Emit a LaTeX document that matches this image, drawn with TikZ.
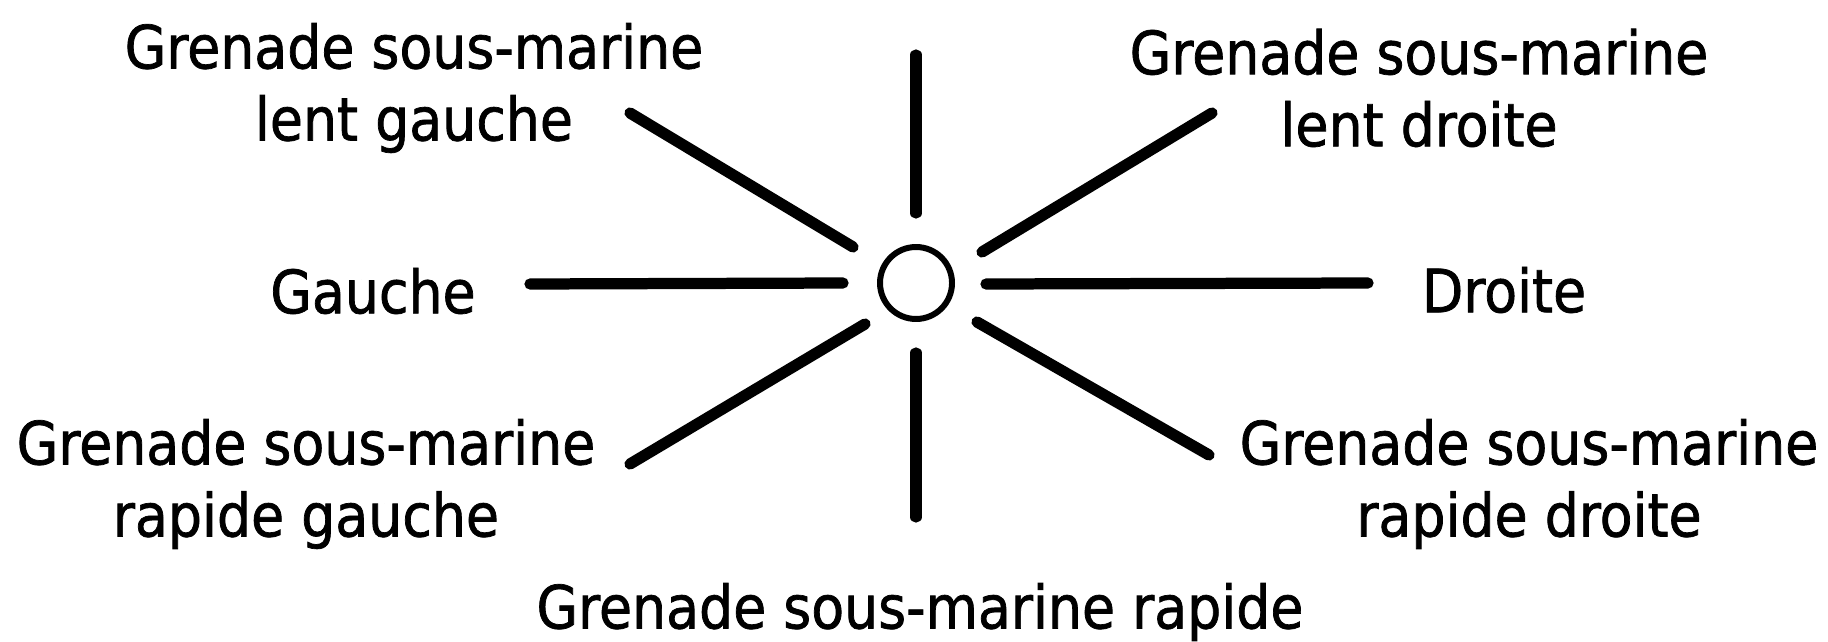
\documentclass[tikz,border=0pt]{standalone}
\usepackage{fontspec}
\setmainfont{DejaVu Sans Condensed}[FakeBold=1.2]
\usetikzlibrary{positioning}

\begin{document}
\begin{tikzpicture}[lbl/.style={align=center, inner sep=0pt, font=\fontsize{17}{20.5}\selectfont},
    ray/.style={line width=3.2pt, line cap=round}]
	\useasboundingbox (0,0) rectangle (18.28,-6.41);

	% centre
	\node[draw, circle, line width=1.7pt, minimum size=0.72cm, inner sep=0pt] (ctr) at (9.16,-2.83) {};

	% labels
	\node[lbl] (lg) at (4.14,-0.88) {Grenade sous-marine\\lent gauche};
	\node[lbl] (ld) at (14.19,-0.88) {Grenade sous-marine\\lent droite};
	\node[lbl] (ga) at (3.73,-2.91) {Gauche};
	\node[lbl] (dr) at (15.04,-2.90) {Droite};
	\node[lbl] (rg) at (3.06,-4.84) {Grenade sous-marine\\rapide gauche};
	\node[lbl] (rd) at (15.29,-4.84) {Grenade sous-marine\\rapide droite};
	\node[lbl] (rp) at (9.20,-6.12) {Grenade sous-marine rapide};

	% ray ends
	\coordinate (n1) at (9.16,-0.55);  \coordinate (n2) at (9.16,-2.13);
	\coordinate (s1) at (9.16,-3.53);  \coordinate (s2) at (9.16,-5.17);
	\coordinate (w1) at (5.30,-2.84);  \coordinate (w2) at (8.43,-2.83);
	\coordinate (e1) at (9.86,-2.84);  \coordinate (e2) at (13.68,-2.83);
	\coordinate (nw1) at (6.30,-1.13); \coordinate (nw2) at (8.53,-2.47);
	\coordinate (ne1) at (9.82,-2.52); \coordinate (ne2) at (12.12,-1.13);
	\coordinate (sw1) at (6.30,-4.64); \coordinate (sw2) at (8.65,-3.24);
	\coordinate (se1) at (9.77,-3.22); \coordinate (se2) at (12.09,-4.55);

	% rays
	\draw[ray] (n1) -- (n2);
	\draw[ray] (s1) -- (s2);
	\draw[ray] (w1) -- (w2);
	\draw[ray] (e1) -- (e2);
	\draw[ray] (nw1) -- (nw2);
	\draw[ray] (ne1) -- (ne2);
	\draw[ray] (sw1) -- (sw2);
	\draw[ray] (se1) -- (se2);
\end{tikzpicture}
\end{document}
